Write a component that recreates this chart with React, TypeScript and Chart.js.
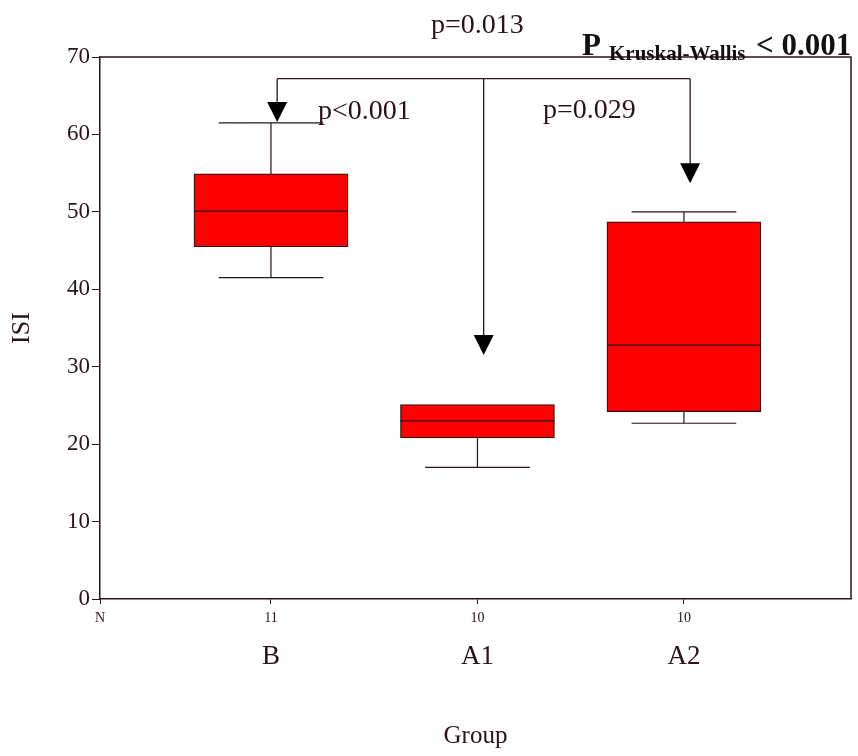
import React, { useEffect, useRef } from 'react';
import { Chart, registerables } from 'chart.js';

Chart.register(...registerables);

// ---- data ----
const groups = ['B', 'A1', 'A2'];
const counts = ['11', '10', '10'];
const groupPos = [1, 2, 3];
const whiskerLow = [41.5, 17.0, 22.7];
const q1 = [45.5, 20.8, 24.2];
const median = [50.1, 23.0, 32.8];
const q3 = [54.9, 25.1, 48.7];
const whiskerHigh = [61.5, 25.1, 50.0];
const yMin = 0;
const yMax = 70;
const yStep = 10;

// comparison arrows (x in group units, y in ISI units)
const bracketLevel = 67.2;
const arrowX = [1.03, 2.03, 3.03];
const arrowTip = [61.6, 31.5, 53.7];
const pLabels = ['p<0.001', 'p=0.013', 'p=0.029'];
const overallLabel = ['P', 'Kruskal-Wallis', '< 0.001'];

const INK = '#2a1218';
const SERIF = '"Liberation Serif", "Times New Roman", serif';
const X_MIN = 0.172;
const X_MAX = 3.809;

const boxPlugin = {
  id: 'boxExtras',
  afterDatasetsDraw(chart: any) {
    const { ctx, chartArea } = chart;
    const xs = chart.scales.x;
    const ys = chart.scales.y;
    const meta = chart.getDatasetMeta(0);
    ctx.save();
    // frame (top & right)
    ctx.strokeStyle = INK;
    ctx.lineWidth = 1.5;
    ctx.beginPath();
    ctx.moveTo(chartArea.left, chartArea.top);
    ctx.lineTo(chartArea.right, chartArea.top);
    ctx.lineTo(chartArea.right, chartArea.bottom);
    ctx.stroke();

    ctx.lineWidth = 1.2;
    groupPos.forEach((g, i) => {
      const el = meta.data[i];
      const cx = xs.getPixelForValue(g);
      const w = el.width;
      const cap = w * 0.34;
      const yL = ys.getPixelForValue(whiskerLow[i]);
      const yQ1 = ys.getPixelForValue(q1[i]);
      const yQ3 = ys.getPixelForValue(q3[i]);
      const yH = ys.getPixelForValue(whiskerHigh[i]);
      const yM = ys.getPixelForValue(median[i]);
      ctx.beginPath();
      ctx.moveTo(cx, yQ1);
      ctx.lineTo(cx, yL);
      ctx.moveTo(cx - cap, yL);
      ctx.lineTo(cx + cap, yL);
      if (whiskerHigh[i] > q3[i]) {
        ctx.moveTo(cx, yQ3);
        ctx.lineTo(cx, yH);
        ctx.moveTo(cx - cap, yH);
        ctx.lineTo(cx + cap, yH);
      }
      ctx.moveTo(cx - w / 2, yM);
      ctx.lineTo(cx + w / 2, yM);
      ctx.stroke();
    });

    // comparison bracket
    const by = ys.getPixelForValue(bracketLevel);
    const ax = arrowX.map((v) => xs.getPixelForValue(v));
    ctx.lineWidth = 1.3;
    ctx.beginPath();
    ctx.moveTo(ax[0], by);
    ctx.lineTo(ax[2], by);
    ax.forEach((x, i) => {
      ctx.moveTo(x, by);
      ctx.lineTo(x, ys.getPixelForValue(arrowTip[i]) - 18);
    });
    ctx.stroke();
    ctx.fillStyle = '#000';
    ax.forEach((x, i) => {
      const ty = ys.getPixelForValue(arrowTip[i]);
      ctx.beginPath();
      ctx.moveTo(x - 10, ty - 20);
      ctx.lineTo(x + 10, ty - 20);
      ctx.lineTo(x, ty);
      ctx.closePath();
      ctx.fill();
    });

    // p-value texts
    ctx.fillStyle = INK;
    ctx.font = `28px ${SERIF}`;
    ctx.textBaseline = 'alphabetic';
    ctx.textAlign = 'left';
    ctx.fillText(pLabels[0], 318, 119);
    ctx.fillText(pLabels[1], 431, 33);
    ctx.fillText(pLabels[2], 543, 118);

    // overall test
    ctx.fillStyle = '#111';
    ctx.font = `bold 31px ${SERIF}`;
    ctx.fillText(overallLabel[0], 582, 55);
    ctx.font = `bold 21px ${SERIF}`;
    ctx.fillText(overallLabel[1], 609, 60);
    ctx.font = `bold 31px ${SERIF}`;
    ctx.fillText(overallLabel[2], 756, 55);
    ctx.restore();
  },
};

export default function App() {
  const ref = useRef<HTMLCanvasElement>(null);
  useEffect(() => {
    document.body.style.margin = '0';
    const canvas = ref.current;
    if (!canvas) return;
    const tickSet = (withN: boolean) => (scale: any) => {
      const t = groupPos.map((v) => ({ value: v }));
      scale.ticks = withN ? [{ value: X_MIN }, ...t] : t;
    };
    const chart = new Chart(canvas, {
      type: 'bar',
      data: {
        datasets: [
          {
            data: groupPos.map((g, i) => ({ x: g, y: [q1[i], q3[i]] })) as any,
            backgroundColor: '#ff0000',
            borderColor: INK,
            borderWidth: 1.2,
            borderSkipped: false,
            barThickness: 154,
            xAxisID: 'x',
            yAxisID: 'y',
          },
        ],
      },
      options: {
        animation: false,
        responsive: false,
        layout: { padding: { left: 0, right: 7, top: 57, bottom: 0 } },
        plugins: {
          legend: { display: false },
          tooltip: { enabled: false },
        },
        scales: {
          x: {
            type: 'linear',
            position: 'bottom',
            offset: false,
            min: X_MIN,
            max: X_MAX,
            afterBuildTicks: tickSet(true),
            afterFit: (s: any) => {
              s.height = 30;
            },
            grid: { offset: false, drawOnChartArea: false, drawTicks: true, tickLength: 5, color: INK },
            border: { display: true, color: INK, width: 1.5 },
            ticks: {
              color: INK,
              padding: 6,
              maxRotation: 0,
              autoSkip: false,
              font: { family: SERIF, size: 14 },
              callback: (v: any) => {
                const i = groupPos.indexOf(Number(v));
                return i >= 0 ? counts[i] : 'N';
              },
            },
          },
          x2: {
            type: 'linear',
            position: 'bottom',
            offset: false,
            min: X_MIN,
            max: X_MAX,
            afterBuildTicks: tickSet(false),
            afterFit: (s: any) => {
              s.height = 127;
            },
            grid: { offset: false, display: false, drawTicks: false },
            border: { display: false },
            ticks: {
              color: INK,
              padding: 12,
              maxRotation: 0,
              autoSkip: false,
              font: { family: SERIF, size: 27 },
              callback: (v: any) => {
                const i = groupPos.indexOf(Number(v));
                return i >= 0 ? groups[i] : '';
              },
            },
            title: {
              display: true,
              text: 'Group',
              color: INK,
              font: { family: SERIF, size: 25 },
              padding: { top: 0, bottom: 5 },
            },
          },
          y: {
            type: 'linear',
            min: yMin,
            max: yMax,
            afterFit: (s: any) => {
              s.width = 100;
            },
            grid: { drawOnChartArea: false, drawTicks: true, tickLength: 8, color: INK },
            border: { display: true, color: INK, width: 1.5 },
            ticks: {
              stepSize: yStep,
              color: INK,
              padding: 2,
              font: { family: SERIF, size: 23 },
            },
            title: {
              display: true,
              text: 'ISI',
              color: INK,
              font: { family: SERIF, size: 26 },
              padding: { top: 7, bottom: 0 },
            },
          },
        },
      },
      plugins: [boxPlugin],
    });
    return () => chart.destroy();
  }, []);
  return (
    <div style={{ width: 858, height: 756 }}>
      <canvas ref={ref} width={858} height={756} style={{ display: 'block' }} />
    </div>
  );
}
